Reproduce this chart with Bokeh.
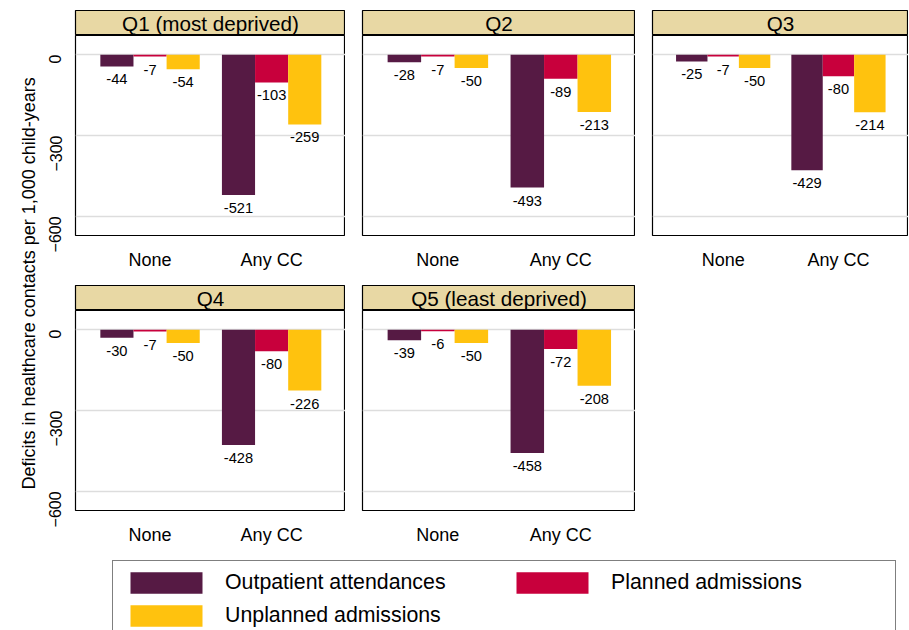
from math import pi
from bokeh.plotting import figure
from bokeh.layouts import row, column
from bokeh.models import Range1d, FixedTicker, Label, Legend, LegendItem, ColumnDataSource
from bokeh.embed import file_html
from bokeh.resources import INLINE
from bokeh.core.properties import value

panels = ["Q1 (most deprived)", "Q2", "Q3", "Q4", "Q5 (least deprived)"]
groups = ["None", "Any CC"]
series = ["Outpatient attendances", "Planned admissions", "Unplanned admissions"]
colors = ["#561A44", "#C8003C", "#FFC20E"]
outpatient = [[-44, -521], [-28, -493], [-25, -429], [-30, -428], [-39, -458]]
planned = [[-7, -103], [-7, -89], [-7, -80], [-7, -80], [-6, -72]]
unplanned = [[-54, -259], [-50, -213], [-50, -214], [-50, -226], [-50, -208]]
yticks = [0, -300, -600]

centers = [2.25, 5.92]
FONT = "Liberation Sans"

def panel(i, left_axis, width, top):
    lb = 32 if left_axis else 17
    s = figure(width=width, height=25 + top, output_backend="svg", toolbar_location=None,
               x_range=Range1d(0, 1), y_range=Range1d(0, 1),
               min_border_left=lb, min_border_right=0, min_border_top=top, min_border_bottom=0)
    s.axis.visible = False
    s.grid.visible = False
    s.background_fill_color = "#E8D8A4"
    s.outline_line_color = "black"
    s.outline_line_width = 1.2
    s.add_layout(Label(x=0.5, y=0.5, text=panels[i], text_align="center",
                       text_baseline="middle", text_font=FONT, text_font_size="15.5pt",
                       text_color="black"))

    p = figure(width=width, height=250, output_backend="svg", toolbar_location=None,
               x_range=Range1d(0, 8.15), y_range=Range1d(-671, 71),
               min_border_left=lb, min_border_right=0,
               min_border_top=0, min_border_bottom=50)
    p.outline_line_color = "black"
    p.outline_line_width = 1.2
    p.xgrid.visible = False
    p.ygrid.ticker = FixedTicker(ticks=yticks)
    p.ygrid.grid_line_color = "#DDDDDD"
    p.ygrid.grid_line_width = 1.5
    p.xaxis.ticker = FixedTicker(ticks=centers)
    p.xaxis.major_label_overrides = {centers[0]: groups[0], centers[1]: groups[1]}
    p.xaxis.major_label_text_font = FONT
    p.xaxis.major_label_text_font_size = "13.5pt"
    p.xaxis.major_label_text_color = "black"
    p.xaxis.axis_line_color = None
    p.xaxis.major_tick_line_color = None
    p.xaxis.minor_tick_line_color = None
    p.xaxis.major_label_standoff = 8
    p.yaxis.ticker = FixedTicker(ticks=yticks)
    p.yaxis.axis_line_color = None
    p.yaxis.major_tick_line_color = None
    p.yaxis.minor_tick_line_color = None
    p.yaxis.major_label_orientation = pi / 2
    p.yaxis.major_label_text_font = FONT
    p.yaxis.major_label_text_font_size = "12pt"
    p.yaxis.major_label_text_color = "black"
    p.yaxis.major_label_standoff = 14
    p.yaxis.visible = left_axis
    vals = [outpatient[i], planned[i], unplanned[i]]
    for j in range(3):
        xs = [c + (j - 1) for c in centers]
        src = ColumnDataSource(dict(x=xs, top=vals[j], lab=[str(v) for v in vals[j]]))
        p.vbar(x="x", top="top", bottom=0, width=1.0, source=src,
               fill_color=colors[j], line_color=None)
        p.text(x="x", y="top", text="lab", source=src, text_align="center",
               text_baseline="top", y_offset=8, text_font=value(FONT),
               text_font_size="11pt", text_color="black")
    return column(s, p, spacing=0)

p1 = panel(0, True, 305, 10)
p2 = panel(1, False, 290, 10)
p3 = panel(2, False, 273, 10)
p4 = panel(3, True, 305, 0)
p5 = panel(4, False, 290, 0)

lab = figure(width=40, height=560, output_backend="svg", toolbar_location=None,
             x_range=Range1d(0, 1), y_range=Range1d(0, 1), min_border=0)
lab.axis.visible = False
lab.grid.visible = False
lab.outline_line_color = None
lab.add_layout(Label(x=0.72, y=0.495, text="Deficits in healthcare contacts per 1,000 child-years",
                     angle=pi / 2, text_align="center", text_baseline="middle",
                     text_font=FONT, text_font_size="13.5pt", text_color="black"))

leg = figure(width=908, height=70, output_backend="svg", toolbar_location=None,
             x_range=Range1d(0, 1), y_range=Range1d(0, 1), min_border=0)
leg.axis.visible = False
leg.grid.visible = False
leg.outline_line_color = None
rs = []
for j in range(3):
    rs.append(leg.vbar(x=[5], top=[5], width=1, fill_color=colors[j], line_color=None))
order = [0, 2, 1]
items = [LegendItem(label=series[j], renderers=[rs[j]]) for j in order]
legend = Legend(items=items, ncols=2, location=(112, -8), glyph_width=90, glyph_height=27,
                label_text_font=FONT, label_text_font_size="16pt", label_width=276,
                label_text_color="black",
                border_line_color="black", border_line_width=1, spacing=6, padding=8,
                label_standoff=14, margin=0, background_fill_alpha=1)
leg.add_layout(legend, "center")

grid = column(row(p1, p2, p3, spacing=0), row(p4, p5, spacing=0), spacing=0)
layout = column(row(lab, grid, spacing=0), leg, spacing=0)

open("out.html", "w").write(file_html(layout, INLINE))
